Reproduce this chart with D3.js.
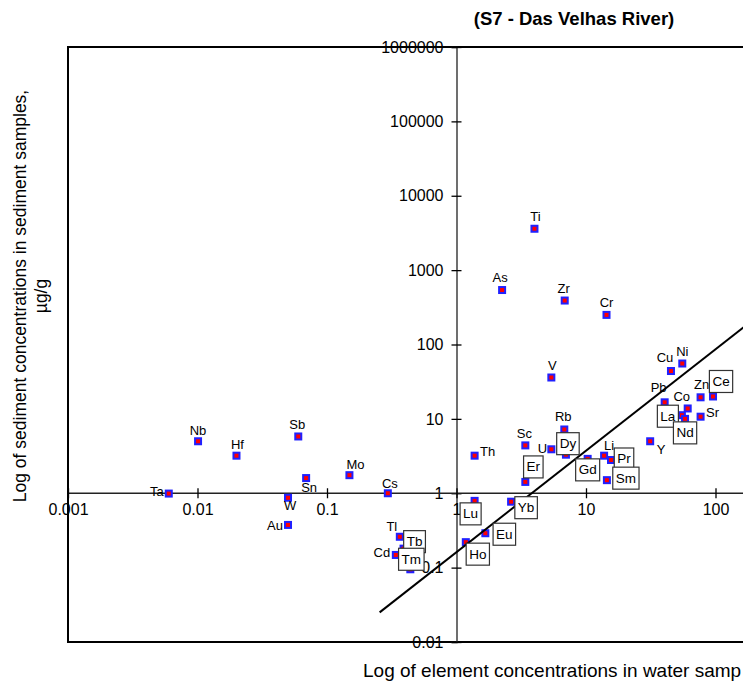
<!DOCTYPE html>
<html lang="en">
<head>
    <meta charset="UTF-8">
    <title>S7 - Das Velhas River</title>
    <script src="https://d3js.org/d3.v7.min.js"></script>
    <style>
        body { margin: 0; background: #fff; }
        text { font-family: "Liberation Sans", Arial, sans-serif; }
    </style>
</head>
<body>
    <svg id="chart" width="743" height="681"></svg>

    <script>
        // element symbols and concentrations (water: x, sediment: y)
        var elements = ["Ta", "Nb", "Hf", "Sb", "Sn", "W", "Au", "Mo", "Cs", "Tl",
                        "Tb", "Cd", "Tm", "Th", "Lu", "Ho", "Eu", "Yb", "As", "Ti",
                        "Sc", "Er", "U", "V", "Zr", "Rb", "Dy", "Gd", "Li", "Pr",
                        "Sm", "Cr", "Y", "Pb", "Cu", "Ni", "La", "Nd", "Co", "Zn",
                        "Sr", "Ce"];
        var waterConc = [0.006, 0.0101, 0.020, 0.060, 0.069, 0.050, 0.050, 0.149, 0.295, 0.365,
                         0.39, 0.34, 0.44, 1.38, 1.38, 1.18, 1.67, 2.64, 2.25, 4.0,
                         3.4, 3.4, 5.4, 5.4, 6.85, 6.8, 7.0, 10.3, 13.8, 15.6,
                         14.5, 14.4, 31.3, 40.5, 45.3, 55.4, 55, 58.2, 61, 76.7,
                         76.7, 95.7];
        var sedimentConc = [0.99, 5.0, 3.2, 5.8, 1.6, 0.87, 0.375, 1.75, 1.0, 0.26,
                            0.18, 0.148, 0.095, 3.2, 0.79, 0.22, 0.29, 0.77, 540, 3600,
                            4.4, 1.42, 3.9, 36, 390, 7.2, 3.3, 2.9, 3.2, 2.8,
                            1.5, 250, 5.0, 16.7, 44, 55.5, 11.2, 10, 13.8, 19.5,
                            10.7, 20];
        // rare earths get a boxed label
        var rareEarths = ["La", "Ce", "Pr", "Nd", "Sm", "Eu", "Gd", "Tb", "Dy", "Ho", "Er", "Tm", "Yb", "Lu"];
        // trend line end points [water, sediment]
        var trendLine = [[0.255, 0.025], [1000, 2000]];
        var xTicks = [0.001, 0.01, 0.1, 1, 10, 100];
        var yTicks = [0.01, 0.1, 1, 10, 100, 1000, 10000, 100000, 1000000];

        // where each label sits relative to its marker (px)
        var labelOffset = {
            Ti: [1, -12], As: [-2, -13], Zr: [-1, -12], Cr: [0, -12], Cu: [-6, -14],
            Ni: [0, -12], V: [1, -12], Pb: [-6, -15], Co: [-6, -12], Zn: [1, -13],
            Sr: [12, -4], Y: [11, 8], Rb: [-1, -13], Sc: [-1, -12], U: [-9, -1],
            Li: [5, -10], Th: [13, -4], Tl: [-8, -10], Cd: [-14, -2], Cs: [2, -10],
            Ta: [-12, -2], Nb: [0, -11], Hf: [1, -11], Sb: [-1, -12], Sn: [3, 9],
            W: [2, 8], Au: [-13, 1], Mo: [6, -11],
            Ce: [8, -15], La: [-14, 1], Nd: [0, 14], Dy: [2, -11], Pr: [13, -1],
            Sm: [19, -2], Gd: [0, 11], Er: [8, -15], Lu: [-4, 13], Yb: [15, 6],
            Eu: [19, 1], Ho: [12, 12], Tb: [11, -7], Tm: [1, -10]
        };

        var points = elements.map(function(el, i) {
            return {id: el, x: waterConc[i], y: sedimentConc[i], boxed: rareEarths.indexOf(el) >= 0};
        });

        var svg = d3.select("#chart");

        var xScale = d3.scaleLog().domain([0.001, 1000]).range([68, 845]);
        var yScale = d3.scaleLog().domain([0.01, 1000000]).range([642, 47]);

        // outer frame (runs off the right edge like the original)
        svg.append("rect")
            .attr("x", 68).attr("y", 47)
            .attr("width", 777).attr("height", 595)
            .attr("fill", "none")
            .attr("stroke", "#000")
            .attr("stroke-width", 2);

        // y axis through x = 1
        var yAxis = svg.append("g")
            .attr("transform", "translate(" + xScale(1) + ",0)")
            .call(d3.axisLeft(yScale).tickValues(yTicks).tickSizeOuter(0).tickSize(5).tickPadding(8)
                  .tickFormat(d3.format("")));
        yAxis.selectAll(".tick line").attr("x1", 5).attr("x2", -5);

        // x axis through y = 1
        var xAxis = svg.append("g")
            .attr("transform", "translate(0," + yScale(1) + ")")
            .call(d3.axisBottom(xScale).tickValues(xTicks).tickSizeOuter(0).tickSize(5).tickPadding(5)
                  .tickFormat(d3.format("")));
        xAxis.selectAll(".tick line").attr("y1", -5).attr("y2", 5);
        xAxis.select(".domain").attr("d", "M68,0H743");

        svg.selectAll(".domain").attr("stroke", "#222").attr("stroke-width", 1.3);
        svg.selectAll(".tick line").attr("stroke", "#000").attr("stroke-width", 1.3);
        svg.selectAll(".tick text")
            .attr("font-size", "16px")
            .attr("font-family", "Liberation Sans, Arial, sans-serif")
            .attr("fill", "#000");

        // markers
        svg.selectAll(".marker")
            .data(points)
            .join("rect")
            .attr("class", "marker")
            .attr("x", d => xScale(d.x) - 3)
            .attr("y", d => yScale(d.y) - 3)
            .attr("width", 6).attr("height", 6)
            .attr("fill", "#ff0000")
            .attr("stroke", "#2020ff")
            .attr("stroke-width", 2);

        // trend line
        svg.append("path")
            .datum(trendLine)
            .attr("d", d3.line().x(d => xScale(d[0])).y(d => yScale(d[1])))
            .attr("fill", "none")
            .attr("stroke", "#000")
            .attr("stroke-width", 2);

        // plain labels
        svg.selectAll(".plabel")
            .data(points.filter(d => !d.boxed))
            .join("text")
            .attr("class", "plabel")
            .attr("x", d => xScale(d.x) + labelOffset[d.id][0])
            .attr("y", d => yScale(d.y) + labelOffset[d.id][1])
            .attr("text-anchor", "middle")
            .attr("dominant-baseline", "central")
            .attr("font-size", "13px")
            .text(d => d.id);

        // boxed labels for the rare earths
        var boxes = svg.selectAll(".blabel")
            .data(points.filter(d => d.boxed))
            .join("g")
            .attr("class", "blabel")
            .attr("transform", d => "translate(" + (xScale(d.x) + labelOffset[d.id][0]) + "," +
                                                (yScale(d.y) + labelOffset[d.id][1]) + ")");
        boxes.append("rect")
            .attr("y", -11).attr("height", 22)
            .attr("fill", "#fff")
            .attr("stroke", "#333")
            .attr("stroke-width", 1.2);
        boxes.append("text")
            .attr("text-anchor", "middle")
            .attr("dominant-baseline", "central")
            .attr("font-size", "13.5px")
            .text(d => d.id);
        boxes.each(function() {
            var g = d3.select(this);
            var w = g.select("text").node().getComputedTextLength() + 6;
            g.select("rect").attr("x", -w / 2).attr("width", w);
        });

        // titles
        svg.append("text")
            .attr("x", 574).attr("y", 25)
            .attr("text-anchor", "middle")
            .attr("font-size", "18.5px")
            .attr("font-weight", "bold")
            .text("(S7 - Das Velhas River)");

        // the original picture is cut at the right edge after "samp"
        svg.append("text")
            .attr("x", 363).attr("y", 677)
            .attr("font-size", "19px")
            .text("Log of element concentrations in water samp");

        var yTitle = svg.append("text")
            .attr("transform", "translate(26,296) rotate(-90)")
            .attr("text-anchor", "middle")
            .attr("font-size", "17.5px");
        yTitle.append("tspan").attr("x", 0).attr("dy", 0)
            .text("Log of sediment concentrations in sediment samples,");
        yTitle.append("tspan").attr("x", 0).attr("dy", 21)
            .text("\u00b5g/g");
    </script>
</body>
</html>
